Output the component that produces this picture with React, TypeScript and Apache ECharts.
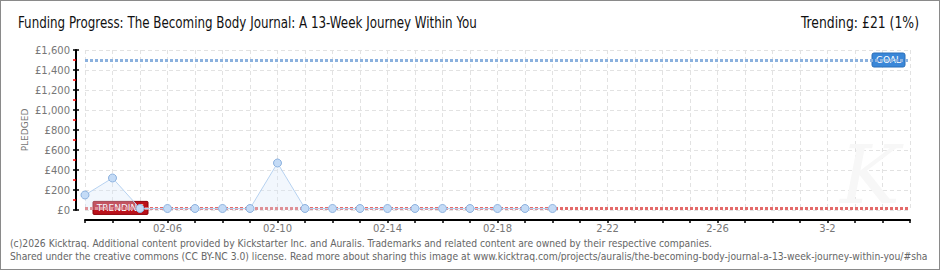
import React, { useEffect, useRef } from "react";
import * as echarts from "echarts";

const titleText = "Funding Progress: The Becoming Body Journal: A 13-Week Journey Within You";
const trendingText = "Trending: £21 (1%)";
const footerLine1 =
  "(c)2026 Kicktraq. Additional content provided by Kickstarter Inc. and Auralis. Trademarks and related content are owned by their respective companies.";
const footerLine2 =
  "Shared under the creative commons (CC BY-NC 3.0) license. Read more about sharing this image at www.kicktraq.com/projects/auralis/the-becoming-body-journal-a-13-week-journey-within-you/#sha";
const yAxisName = "PLEDGED";

const days = [
  "02-03", "02-04", "02-05", "02-06", "02-07", "02-08", "02-09", "02-10",
  "02-11", "02-12", "02-13", "02-14", "02-15", "02-16", "02-17", "02-18",
  "02-19", "02-20", "02-21", "02-22", "02-23", "02-24", "02-25", "02-26",
  "02-27", "02-28", "03-01", "03-02", "03-03", "03-04", "03-05",
];
const dayLabels = [
  "", "", "", "02-06", "", "", "", "02-10",
  "", "", "", "02-14", "", "", "", "02-18",
  "", "", "", "2-22", "", "", "", "2-26",
  "", "", "", "3-2", "", "", "",
];
const pledged = [150, 320, 15, 15, 15, 15, 15, 470, 15, 15, 15, 15, 15, 15, 15, 15, 15, 15];
const goal = 1500;
const trending = 21;
const yTicks = [0, 200, 400, 600, 800, 1000, 1200, 1400, 1600];

const headFont = "'Liberation Sans Narrow', 'DejaVu Sans Condensed', 'Roboto Condensed', sans-serif";
const axisFont = "'DejaVu Sans', sans-serif";

export default function App() {
  const ref = useRef<HTMLDivElement>(null);
  useEffect(() => {
    document.body.style.margin = "0";
    const chart = echarts.init(ref.current!, null, { renderer: "svg" });
    const gridLine = { show: true, lineStyle: { color: "#e2e2e2", type: [4, 3] as any, width: 1 } };
    const option: any = {
      animation: false,
      backgroundColor: "#ffffff",
      grid: { left: 85, right: 30, top: 50, bottom: 60, containLabel: false },
      xAxis: {
        type: "category",
        data: days,
        boundaryGap: false,
        offset: 10,
        axisLine: { show: true, onZero: false, lineStyle: { color: "#000", width: 2 } },
        axisTick: { show: true, interval: 0, length: 3, lineStyle: { color: "#000", width: 1.5 } },
        axisLabel: {
          interval: 0,
          formatter: (_v: string, i: number) => dayLabels[i],
          color: "#777",
          fontSize: 10,
          fontFamily: axisFont,
          margin: 3,
        },
        splitLine: { ...gridLine, interval: 0 },
      },
      yAxis: [
        {
          type: "value",
          position: "left",
          min: yTicks[0],
          max: yTicks[yTicks.length - 1],
          interval: 200,
          offset: 9,
          axisLine: { show: true, lineStyle: { color: "#000", width: 2 } },
          axisTick: { show: true, length: 3, lineStyle: { color: "#000", width: 1.5 } },
          minorTick: { show: true, splitNumber: 2, length: 3, lineStyle: { color: "#ff0000", width: 1.5 } },
          axisLabel: {
            formatter: (v: number) => "£" + v.toLocaleString("en-US"),
            color: "#777",
            fontSize: 10,
            fontFamily: axisFont,
            margin: 6,
          },
          splitLine: gridLine,
        },
        {
          type: "value",
          position: "left",
          min: yTicks[0],
          max: yTicks[yTicks.length - 1],
          interval: 200,
          offset: 9,
          axisLine: { show: false },
          axisTick: { show: true, inside: true, length: 3, lineStyle: { color: "#000", width: 1.5 } },
          axisLabel: { show: false },
          splitLine: { show: false },
        },
      ],
      series: [
        {
          type: "line",
          data: pledged,
          symbol: "circle",
          symbolSize: 8,
          z: 5,
          itemStyle: { color: "#c4dbf6", borderColor: "#8db2df", borderWidth: 1 },
          lineStyle: { color: "#b7d2f0", width: 1 },
          areaStyle: { color: "rgba(214,230,249,0.45)" },
          markLine: {
            silent: true,
            symbol: "none",
            label: { show: false },
            data: [
              { yAxis: goal, lineStyle: { color: "#8bb1de", width: 3, type: [3, 2] } },
              { yAxis: trending, lineStyle: { color: "#e46a6a", width: 3, type: [3, 2] } },
            ],
          },
        },
      ],
    };
    chart.setOption(option);

    const x0 = chart.convertToPixel({ xAxisIndex: 0 }, days[0]) as number;
    const x1 = chart.convertToPixel({ xAxisIndex: 0 }, days[days.length - 1]) as number;
    const gy = chart.convertToPixel({ yAxisIndex: 0 }, goal) as number;
    const ty = chart.convertToPixel({ yAxisIndex: 0 }, trending) as number;
    const yTop = chart.convertToPixel({ yAxisIndex: 0 }, yTicks[yTicks.length - 1]) as number;
    const yBot = chart.convertToPixel({ yAxisIndex: 0 }, yTicks[0]) as number;

    const head = { fontFamily: headFont, fontSize: 15, fill: "#111", verticalAlign: "middle" };
    const foot = { fontFamily: headFont, fontSize: 11, fill: "#666", verticalAlign: "middle" };

    chart.setOption({
      graphic: [
        { type: "text", x: 18, y: 23, scaleX: 0.883, style: { ...head, text: titleText, align: "left" } },
        { type: "text", x: 919, y: 23, scaleX: 0.92, style: { ...head, text: trendingText, align: "right" } },
        { type: "text", x: 10, y: 243, scaleX: 0.933, style: { ...foot, text: footerLine1, align: "left" } },
        { type: "text", x: 10, y: 256, scaleX: 0.933, style: { ...foot, text: footerLine2, align: "left" } },
        {
          type: "text",
          x: 25,
          y: (yTop + yBot) / 2,
          rotation: Math.PI / 2,
          style: { text: yAxisName, fill: "#777", fontSize: 9, fontFamily: axisFont, align: "center", verticalAlign: "middle" },
        },
        {
          type: "text",
          left: 840,
          top: 135,
          z: 0,
          silent: true,
          style: { text: "K", fill: "#f7f7f7", fontSize: 80, fontStyle: "italic", fontFamily: "'DejaVu Serif', serif" },
        },
        {
          type: "rect",
          z: 3,
          shape: { x: x1 - 38, y: gy - 7, width: 33, height: 14, r: 2 },
          style: { fill: "#3a87d8", stroke: "#2a6fb8", lineWidth: 1 },
        },
        {
          type: "text",
          z: 4,
          x: x1 - 21.5,
          y: gy,
          style: { text: "GOAL", fill: "#fff", fontSize: 9, fontFamily: axisFont, align: "center", verticalAlign: "middle" },
        },
        {
          type: "rect",
          z: 3,
          shape: { x: x0 + 8, y: ty - 6.5, width: 55, height: 13, r: 1 },
          style: { fill: "#bb111b", stroke: "#8a0008", lineWidth: 1 },
        },
        {
          type: "text",
          z: 4,
          x: x0 + 35.5,
          y: ty,
          style: { text: "TRENDING", fill: "#fff", fontSize: 9, fontFamily: axisFont, align: "center", verticalAlign: "middle" },
        },
      ],
    });

    return () => chart.dispose();
  }, []);

  return (
    <div style={{ position: "fixed", left: 0, top: 0, width: 940, height: 270 }}>
      <div ref={ref} style={{ width: 940, height: 270 }} />
      <div
        style={{
          position: "absolute",
          left: 0,
          top: 0,
          width: 940,
          height: 270,
          boxSizing: "border-box",
          border: "1px solid #8a8a8a",
          pointerEvents: "none",
        }}
      />
    </div>
  );
}
